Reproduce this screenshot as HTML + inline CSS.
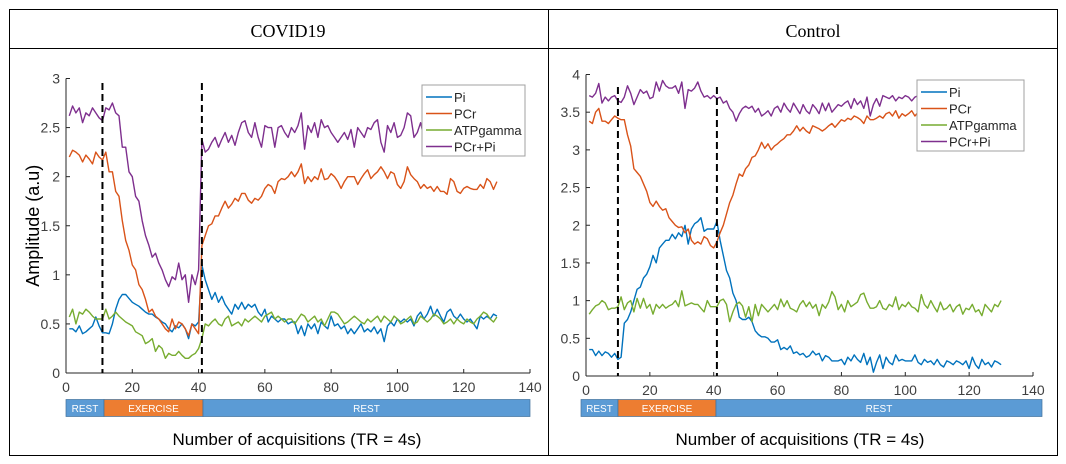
<!DOCTYPE html>
<html><head><meta charset="utf-8"><style>
html,body{margin:0;padding:0;background:#fff;width:1066px;height:464px;overflow:hidden}
svg{display:block;font-family:"Liberation Sans",Arial,sans-serif}
</style></head><body>
<svg id="fig" width="1066" height="464" viewBox="0 0 1066 464" xmlns="http://www.w3.org/2000/svg">
<rect x="9.5" y="9.5" width="1048" height="446" fill="none" stroke="#000" stroke-width="1"/>
<line x1="9" y1="48.5" x2="1058" y2="48.5" stroke="#000"/>
<line x1="548.5" y1="9" x2="548.5" y2="456" stroke="#000"/>
<text x="288" y="37" text-anchor="middle" font-family="Liberation Serif,serif" font-size="18">COVID19</text>
<text x="813" y="37" text-anchor="middle" font-family="Liberation Serif,serif" font-size="18">Control</text>
<g id="g1"></g>
<g id="g2"></g>
</svg>
<script>
const xTicks=[0,20,40,60,80,100,120,140];
const covidYTicks=[0,0.5,1,1.5,2,2.5,3];
const controlYTicks=[0,0.5,1,1.5,2,2.5,3,3.5,4];
const seriesNames=["Pi","PCr","ATPgamma","PCr+Pi"];
const exerciseStartCovid=11, exerciseEndCovid=41;
const exerciseStartControl=10, exerciseEndControl=41;
const covidPi=[.45,.45,.42,.48,.40,.42,.45,.48,.57,.48,.41,.41,.40,.50,.65,.75,.80,.80,.76,.72,.70,.68,.65,.62,.60,.60,.57,.55,.52,.50,.45,.42,.48,.46,.50,.45,.35,.50,.48,.52,1.10,.95,.85,.75,.82,.72,.78,.70,.65,.60,.70,.65,.72,.65,.70,.67,.70,.62,.58,.65,.52,.58,.55,.52,.55,.55,.50,.52,.52,.40,.48,.38,.50,.45,.50,.40,.52,.48,.45,.58,.48,.50,.45,.48,.40,.45,.40,.45,.50,.42,.45,.42,.47,.40,.45,.32,.48,.52,.48,.55,.52,.55,.52,.55,.48,.58,.62,.55,.60,.68,.58,.65,.58,.52,.62,.65,.58,.55,.60,.55,.52,.55,.50,.45,.58,.55,.58,.55,.60,.58];
const covidPCr=[2.20,2.27,2.25,2.22,2.15,2.22,2.18,2.13,2.25,2.20,2.17,2.25,2.05,2.05,1.85,1.80,1.55,1.35,1.25,1.10,1.05,.90,.85,.75,.62,.65,.58,.55,.50,.45,.42,.55,.45,.52,.50,.45,.38,.50,.45,.40,1.30,1.40,1.50,1.52,1.60,1.60,1.68,1.75,1.68,1.72,1.78,1.75,1.83,1.83,1.76,1.73,1.78,1.76,1.80,1.88,1.92,1.90,1.83,1.95,1.98,1.97,2.00,2.05,2.00,2.05,2.13,1.93,2.00,1.95,2.00,1.97,2.08,1.97,1.98,2.03,2.00,1.95,1.88,1.95,2.00,2.00,2.00,1.92,1.98,2.03,2.07,1.98,2.02,2.05,2.10,2.05,1.98,2.05,2.03,1.92,1.88,1.95,2.10,2.02,1.98,1.95,1.88,1.92,1.88,1.90,1.85,1.90,1.85,1.85,1.82,1.98,1.95,1.85,1.83,1.88,1.90,1.88,1.87,1.87,1.92,1.88,1.98,1.95,1.87,1.95];
const covidATP=[.57,.65,.50,.62,.60,.65,.62,.58,.55,.55,.55,.65,.55,.58,.62,.58,.55,.52,.50,.48,.42,.40,.38,.30,.32,.35,.22,.28,.25,.15,.20,.18,.18,.22,.18,.15,.15,.18,.20,.25,.35,.50,.48,.52,.55,.50,.48,.55,.58,.48,.50,.52,.48,.55,.52,.55,.58,.55,.52,.58,.60,.62,.55,.58,.55,.52,.55,.55,.50,.55,.60,.58,.52,.55,.58,.52,.55,.48,.55,.62,.62,.60,.55,.50,.52,.55,.58,.55,.52,.50,.55,.52,.55,.58,.52,.58,.55,.52,.58,.55,.50,.52,.55,.58,.50,.52,.58,.55,.52,.55,.60,.58,.55,.50,.52,.55,.50,.55,.52,.50,.55,.52,.50,.55,.58,.62,.60,.55,.52,.57];
const covidSum=[2.62,2.72,2.65,2.70,2.55,2.65,2.62,2.70,2.65,2.60,2.57,2.70,2.68,2.75,2.65,2.62,2.30,2.30,2.05,2.00,1.80,1.75,1.55,1.40,1.30,1.18,1.22,1.12,1.05,.95,.88,.98,.95,1.12,.95,1.00,.72,1.00,.90,1.05,2.38,2.25,2.28,2.35,2.40,2.30,2.38,2.45,2.35,2.42,2.32,2.45,2.55,2.57,2.45,2.40,2.55,2.40,2.30,2.52,2.50,2.50,2.30,2.50,2.52,2.45,2.40,2.50,2.45,2.52,2.65,2.28,2.52,2.45,2.55,2.40,2.58,2.50,2.52,2.45,2.40,2.35,2.40,2.45,2.38,2.48,2.30,2.50,2.45,2.40,2.50,2.48,2.55,2.58,2.35,2.25,2.52,2.45,2.55,2.40,2.42,2.50,2.65,2.62,2.40,2.45,2.55,2.40,2.60,2.45,2.52,2.40,2.60,2.45,2.55,2.40,2.50,2.42,2.58,2.45,2.55,2.40,2.45,2.60,2.50,2.40,2.55,2.45,2.50,2.55];
const controlPi=[.35,.35,.27,.33,.27,.32,.30,.25,.30,.22,.25,.70,.75,.85,1.00,1.15,1.18,1.30,1.35,1.45,1.60,1.50,1.70,1.75,1.80,1.80,1.88,1.82,1.90,1.85,2.00,1.75,1.95,2.02,2.05,2.10,1.92,1.95,1.95,1.95,2.05,1.80,1.60,1.40,1.30,1.10,1.00,.78,.75,.75,.78,.72,.60,.55,.52,.52,.50,.45,.45,.48,.35,.38,.35,.40,.30,.32,.28,.30,.25,.27,.33,.28,.30,.20,.27,.25,.20,.20,.20,.22,.15,.25,.20,.28,.22,.18,.30,.15,.25,.05,.18,.28,.10,.25,.18,.15,.28,.20,.22,.20,.20,.20,.28,.18,.15,.22,.18,.20,.15,.22,.15,.12,.20,.18,.15,.20,.18,.15,.20,.10,.25,.15,.10,.22,.15,.18,.12,.20,.18,.15];
const controlPCr=[3.38,3.35,3.50,3.55,3.38,3.38,3.35,3.40,3.45,3.42,3.40,3.40,3.20,3.05,2.75,2.70,2.65,2.55,2.45,2.30,2.25,2.32,2.25,2.20,2.22,2.10,2.05,2.00,1.97,1.98,1.90,1.95,1.80,1.75,1.78,1.75,1.85,1.82,1.73,1.70,1.78,1.90,2.00,2.15,2.30,2.40,2.55,2.68,2.65,2.75,2.80,2.90,2.92,3.00,3.10,3.02,3.08,3.00,3.05,3.08,3.12,3.15,3.20,3.20,3.25,3.32,3.25,3.30,3.25,3.22,3.32,3.30,3.28,3.25,3.28,3.32,3.35,3.30,3.35,3.40,3.38,3.42,3.40,3.45,3.43,3.40,3.35,3.45,3.40,3.40,3.42,3.45,3.42,3.48,3.50,3.45,3.52,3.42,3.48,3.45,3.48,3.52,3.45,3.50,3.47,3.50,3.45,3.52,3.48,3.50,3.46,3.52,3.48,3.45,3.50,3.47,3.52,3.48,3.50,3.45,3.50,3.48,3.52,3.45,3.50,3.48,3.52,3.47,3.50,3.52];
const controlATP=[.82,.88,.93,.95,1.00,.97,.88,.90,.90,.92,1.05,.88,.97,1.00,.85,1.03,.90,1.03,.90,.95,.82,.95,.90,.95,.90,.93,.95,1.00,.92,1.13,.93,.95,.97,.95,.95,.90,.85,1.00,.92,.92,.92,1.00,1.02,.95,.72,.85,.95,.98,.93,.78,.92,.72,.95,.80,.95,.90,.85,.90,.95,.88,1.02,.92,1.00,.90,.88,.85,.95,1.00,.92,.98,.90,.95,.80,.95,.90,.98,1.12,1.05,.88,.95,.85,1.00,.92,.95,.98,1.08,1.10,.98,.90,.90,.92,1.00,.90,.88,.95,.92,1.05,.88,.95,.92,.98,.92,.90,.85,1.08,.95,.90,1.00,.92,.85,.98,.88,.90,.95,.85,.92,.95,.82,.90,.88,.95,.85,.88,.80,.95,.90,.85,.95,.92,1.00];
const controlSum=[3.72,3.70,3.75,3.88,3.62,3.70,3.65,3.70,3.72,3.65,3.63,3.70,3.85,3.75,3.60,3.70,3.80,3.75,3.78,3.68,3.70,3.90,3.78,3.92,3.85,3.82,3.82,3.85,3.75,3.90,3.55,3.80,3.78,3.82,3.90,3.78,3.70,3.72,3.68,3.72,3.68,3.70,3.62,3.65,3.55,3.50,3.38,3.48,3.55,3.58,3.55,3.58,3.50,3.55,3.45,3.48,3.52,3.45,3.55,3.58,3.50,3.62,3.55,3.50,3.62,3.55,3.48,3.60,3.52,3.48,3.60,3.55,3.48,3.62,3.52,3.62,3.50,3.55,3.60,3.58,3.62,3.65,3.55,3.68,3.60,3.65,3.55,3.70,3.45,3.60,3.68,3.58,3.72,3.70,3.68,3.72,3.65,3.70,3.68,3.72,3.70,3.65,3.70,3.72,3.68,3.70,3.65,3.70,3.72,3.68,3.70,3.68,3.72,3.65,3.70,3.68,3.72,3.70,3.68,3.70,3.72,3.68,3.70,3.65,3.70,3.72,3.68,3.70,3.72,3.70];

const NS="http://www.w3.org/2000/svg";
const colors=["#0072BD","#D95319","#77AC30","#7E2F8E"];
function mk(parent,tag,attrs,text){const e=document.createElementNS(NS,tag);for(const k in attrs)e.setAttribute(k,attrs[k]);if(text!==undefined)e.textContent=text;parent.appendChild(e);return e;}

function drawChart(g,cfg){
  const sx=v=>cfg.x0+(v-0)/(140-0)*(cfg.x1-cfg.x0);
  const sy=v=>cfg.y0-(v-0)/(cfg.ymax-0)*(cfg.y0-cfg.y1);
  const axis=mk(g,"g",{});
  
  
  const xl=mk(axis,"line",{x1:cfg.x0,y1:cfg.y0,x2:cfg.x1,y2:cfg.y0,stroke:"#262626","stroke-width":1});
  
  
  const yl=mk(axis,"line",{x1:cfg.x0,y1:cfg.y0,x2:cfg.x0,y2:cfg.y1,stroke:"#262626","stroke-width":1});
  
  
  xTicks.forEach(t=>{
    const x=sx(t);
    mk(axis,"line",{x1:x,y1:cfg.y0,x2:x,y2:cfg.y0-4,stroke:"#262626"});
    const tx=mk(axis,"text",{x:x,y:cfg.y0+19,"text-anchor":"middle","font-size":14,fill:"#404040"},String(t));
    
    
  });
  cfg.yticks.forEach(t=>{
    const y=sy(t);
    mk(axis,"line",{x1:cfg.x0,y1:y,x2:cfg.x0+4,y2:y,stroke:"#262626"});
    const ty=mk(axis,"text",{x:cfg.x0-6,y:y+5,"text-anchor":"end","font-size":14,fill:"#404040"},String(t));
    
    
  });
  cfg.series.forEach((arr,i)=>{
    const d=arr.map((v,j)=>(j?"L":"M")+sx(j+1).toFixed(1)+","+sy(v).toFixed(1)).join("");
    const p=mk(g,"path",{d:d,fill:"none",stroke:colors[i],"stroke-width":1.4,"stroke-linejoin":"round"});
    
    
  });
  [cfg.exStart,cfg.exEnd].forEach((v,k)=>{
    const l=mk(g,"line",{x1:sx(v),y1:cfg.dashTop,x2:sx(v),y2:cfg.y0,stroke:"#000","stroke-width":2,"stroke-dasharray":"7,4"});
    
    
  });
  const lg=mk(g,"g",{});
  
  
  mk(lg,"rect",{x:cfg.lx,y:cfg.ly,width:cfg.lw,height:71,fill:"#fff",stroke:"#a0a0a0"});
  seriesNames.forEach((n,i)=>{
    const y=cfg.ly+12+i*16.5;
    const e=mk(lg,"g",{});
    
    
    mk(e,"line",{x1:cfg.lx+4,y1:y,x2:cfg.lx+30,y2:y,stroke:colors[i],"stroke-width":1.4});
    mk(e,"text",{x:cfg.lx+32,y:y+5,"font-size":13,fill:"#262626"},n);
  });
  if(cfg.ylabel){
    const t=mk(g,"text",{x:0,y:0,transform:"translate(39,"+((cfg.y0+cfg.y1)/2)+") rotate(-90)","text-anchor":"middle","font-size":18,fill:"#000"},"Amplitude (a.u)");
    
    
  }
  const bar=mk(g,"g",{});
  
  
  const segs=[[cfg.b0,cfg.b1,"#5B9BD5","REST"],[cfg.b1,cfg.b2,"#ED7D31","EXERCISE"],[cfg.b2,cfg.b3,"#5B9BD5","REST"]];
  segs.forEach(s=>{
    const r=mk(bar,"rect",{x:s[0],y:399.5,width:s[1]-s[0],height:17,fill:s[2],stroke:"#41719C","stroke-width":0.7});
    
    
    mk(bar,"text",{x:(s[0]+s[1])/2,y:412,"text-anchor":"middle","font-size":10,fill:"#fff"},s[3]);
  });
  const xt=mk(g,"text",{x:cfg.xtx,y:445,"text-anchor":"middle","font-size":17,fill:"#000"},"Number of acquisitions (TR = 4s)");
  
  
}
drawChart(document.getElementById('g1'),{x0:66,x1:530,y0:373,y1:78.5,ymax:3,yticks:covidYTicks,
  series:[covidPi,covidPCr,covidATP,covidSum],exStart:exerciseStartCovid,exEnd:exerciseEndCovid,dashTop:83,
  lx:422,ly:85,lw:103,ylabel:true,b0:66,b1:104,b2:203,b3:530,xtx:297});
drawChart(document.getElementById('g2'),{x0:586,x1:1033,y0:376,y1:74.5,ymax:4,yticks:controlYTicks,
  series:[controlPi,controlPCr,controlATP,controlSum],exStart:exerciseStartControl,exEnd:exerciseEndControl,dashTop:87,
  lx:917,ly:80,lw:107,ylabel:false,b0:581,b1:618,b2:716,b3:1042,xtx:800});
</script>
</body></html>
